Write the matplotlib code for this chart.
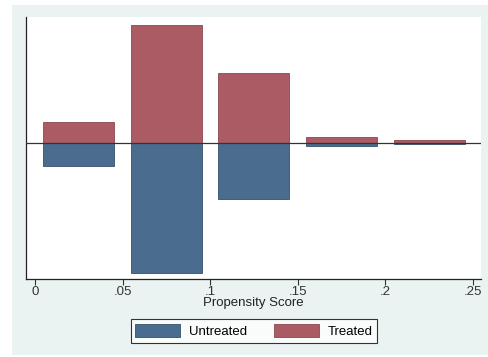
import matplotlib.pyplot as plt
from matplotlib.patches import Rectangle

plt.rcParams['font.family'] = ['Liberation Sans', 'DejaVu Sans']

# propensity score bins (bin centres) and mirrored densities
bin_centers = [0.025, 0.075, 0.125, 0.175, 0.225]
bin_width = 0.0405
treated = [2.6, 15.0, 8.85, 0.69, 0.43]
untreated = [2.88, 16.5, 7.1, 0.34, 0.12]

xticks = [0, 0.05, 0.1, 0.15, 0.2, 0.25]
xtick_labels = ['0', '.05', '.1', '.15', '.2', '.25']

treated_color = '#AB5B64'
untreated_color = '#4A6D8F'

fig = plt.figure(figsize=(4.88, 3.57), dpi=100)
fig.patch.set_facecolor('white')
fig.patches.append(Rectangle((12 / 488, 2 / 357), 476 / 488, 350 / 357,
                             transform=fig.transFigure, facecolor='#EAF2F2',
                             edgecolor='none', zorder=-10))

ax = fig.add_axes([26 / 488, 78 / 357, 455 / 488, 262 / 357])
ax.set_facecolor('white')

ax.bar(bin_centers, treated, width=bin_width, color=treated_color,
       edgecolor='#8E4650', linewidth=0.6, label='Treated', zorder=2)
ax.bar(bin_centers, [-u for u in untreated], width=bin_width, color=untreated_color,
       edgecolor='#35506A', linewidth=0.6, label='Untreated', zorder=2)
ax.axhline(0, color='#333333', linewidth=0.9, zorder=3)

ax.set_xlim(-0.0051, 0.2546)
ax.set_ylim(-17.3, 16.0)
ax.set_yticks([])
ax.set_xticks(xticks)
ax.set_xticklabels(xtick_labels, fontsize=9.5, color='#333333')
ax.tick_params(axis='x', length=4, width=0.8, color='#333333', pad=1)

for side in ['top', 'right']:
    ax.spines[side].set_visible(False)
for side in ['left', 'bottom']:
    ax.spines[side].set_color('#222222')
    ax.spines[side].set_linewidth(0.9)

ax.set_xlabel('Propensity Score', fontsize=9.5, color='#222222', labelpad=-1)

handles, labels = ax.get_legend_handles_labels()
leg = fig.legend(handles[::-1], labels[::-1], loc='center', ncol=2,
                 bbox_to_anchor=(254 / 488, 1 - 331 / 357), fontsize=9.5,
                 frameon=True, fancybox=False, edgecolor='black',
                 handlelength=3.4, handleheight=1.1, columnspacing=2.0,
                 borderpad=0.35, handletextpad=0.7)
leg.get_frame().set_linewidth(0.8)

fig.savefig('out.png', dpi=100, facecolor=fig.get_facecolor())
